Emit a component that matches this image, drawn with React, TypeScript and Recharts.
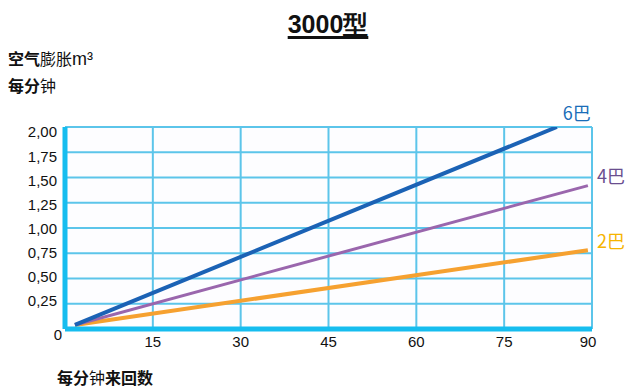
import React from "react";
import { LineChart, Line, XAxis, YAxis, CartesianGrid } from "recharts";

const title = "3000型";
const xTicks = [0, 15, 30, 45, 60, 75, 90];
const yTicks = [0, 0.25, 0.5, 0.75, 1.0, 1.25, 1.5, 1.75, 2.0];

const series6X = [1.7, 84];
const series6Y = [0.04, 2.0];
const series4X = [1.7, 89.3];
const series4Y = [0.04, 1.42];
const series2X = [1.7, 89.3];
const series2Y = [0.04, 0.78];

const seriesNames = ["6巴", "4巴", "2巴"];

const toData = (xs: number[], ys: number[]) => xs.map((x, i) => ({ x, y: ys[i] }));

const data6 = toData(series6X, series6Y);
const data4 = toData(series4X, series4Y);
const data2 = toData(series2X, series2Y);

const FONT = '"Liberation Sans", Arial, sans-serif';
const CJK = '"Noto Sans CJK SC", "Liberation Sans", sans-serif';

const YTick = (props: any) => {
  const { y, payload } = props;
  const v = payload.value as number;
  if (v === 0) {
    return (
      <text x={58} y={y + 7} textAnchor="middle" dominantBaseline="middle" fontSize={15} fontFamily={FONT} fill="#111">
        0
      </text>
    );
  }
  const off = -2 + ((v - 0.25) / 1.75) * 8.5;
  return (
    <text x={57} y={y + off} textAnchor="end" dominantBaseline="middle" fontSize={15} fontFamily={FONT} fill="#111">
      {v.toFixed(2).replace(".", ",")}
    </text>
  );
};

const XTick = (props: any) => {
  const { x, payload } = props;
  const v = payload.value as number;
  if (v === 0) return null;
  const dx = v === 90 ? -4 : 0;
  return (
    <text x={x + dx} y={343} textAnchor="middle" dominantBaseline="middle" fontSize={15} fontFamily={FONT} fill="#111">
      {v}
    </text>
  );
};

const makeEndLabel = (name: string, color: string, dx: number, dy: number, n: number) => (props: any) => {
  const { x, y, index } = props;
  if (index !== n - 1) return null;
  return (
    <text key={name} x={x + dx} y={y + dy} textAnchor="middle" dominantBaseline="middle" fontSize={18} fontFamily={CJK} fill={color}>
      {name}
    </text>
  );
};

export default function App() {
  return (
    <div style={{ position: "absolute", left: 0, top: 0, width: 629, height: 388, background: "#fff" }}>
      <div
        style={{
          position: "absolute",
          left: 28,
          width: 600,
          top: 9,
          textAlign: "center",
          fontFamily: FONT,
          fontWeight: 700,
          fontSize: 25,
          lineHeight: "30px",
          color: "#111",
        }}
      >
        <span style={{ textDecoration: "underline", textDecorationThickness: 3, textUnderlineOffset: 3 }}>{title}</span>
      </div>
      <div
        style={{
          position: "absolute",
          left: 8,
          top: 45,
          fontFamily: CJK,
          fontSize: 16,
          color: "#111",
        }}
      >
        <div style={{ height: 27, lineHeight: "27px", whiteSpace: "nowrap" }}>
          <span style={{ fontWeight: 700 }}>空气</span>
          <span style={{ fontWeight: 400 }}>膨胀</span>
          <span style={{ fontFamily: FONT, fontSize: 18 }}>m³</span>
        </div>
        <div style={{ height: 27, lineHeight: "27px", whiteSpace: "nowrap" }}>
          <span style={{ fontWeight: 700 }}>每分</span>
          <span style={{ fontWeight: 400 }}>钟</span>
        </div>
      </div>
      <div
        style={{
          position: "absolute",
          left: 57,
          top: 366,
          fontFamily: CJK,
          fontSize: 16,
          lineHeight: "22px",
          color: "#111",
          whiteSpace: "nowrap",
        }}
      >
        <span style={{ fontWeight: 700 }}>每分</span>
        <span style={{ fontWeight: 400 }}>钟</span>
        <span style={{ fontWeight: 700 }}>来回数</span>
      </div>
      <div style={{ position: "absolute", left: 0, top: 0 }}>
        <LineChart width={629} height={388} margin={{ top: 127, right: 37, bottom: 29, left: 8 }}>
          <CartesianGrid stroke="#5cc5ea" strokeWidth={2} vertical={true} horizontal={true} fill="#fdfdff" />
          <XAxis
            type="number"
            dataKey="x"
            domain={[0, 90]}
            ticks={xTicks}
            height={30}
            tickLine={false}
            axisLine={{ stroke: "#16bdef", strokeWidth: 5 }}
            tick={<XTick />}
            interval={0}
            allowDataOverflow
          />
          <YAxis
            type="number"
            dataKey="y"
            domain={[0, 2]}
            ticks={yTicks}
            width={57}
            tickLine={false}
            axisLine={{ stroke: "#16bdef", strokeWidth: 5 }}
            tick={<YTick />}
            interval={0}
            allowDataOverflow
          />
          <Line
            data={data2}
            dataKey="y"
            stroke="#f6a130"
            strokeWidth={4}
            dot={false}
            isAnimationActive={false}
            label={makeEndLabel(seriesNames[2], "#f6b400", 23, -7, data2.length)}
          />
          <Line
            data={data4}
            dataKey="y"
            stroke="#9a66ad"
            strokeWidth={3}
            dot={false}
            isAnimationActive={false}
            label={makeEndLabel(seriesNames[1], "#6a4e8f", 23, -7, data4.length)}
          />
          <Line
            data={data6}
            dataKey="y"
            stroke="#1b62b5"
            strokeWidth={4}
            dot={false}
            isAnimationActive={false}
            label={makeEndLabel(seriesNames[0], "#1a6db8", 20, -12, data6.length)}
          />
        </LineChart>
      </div>
    </div>
  );
}
